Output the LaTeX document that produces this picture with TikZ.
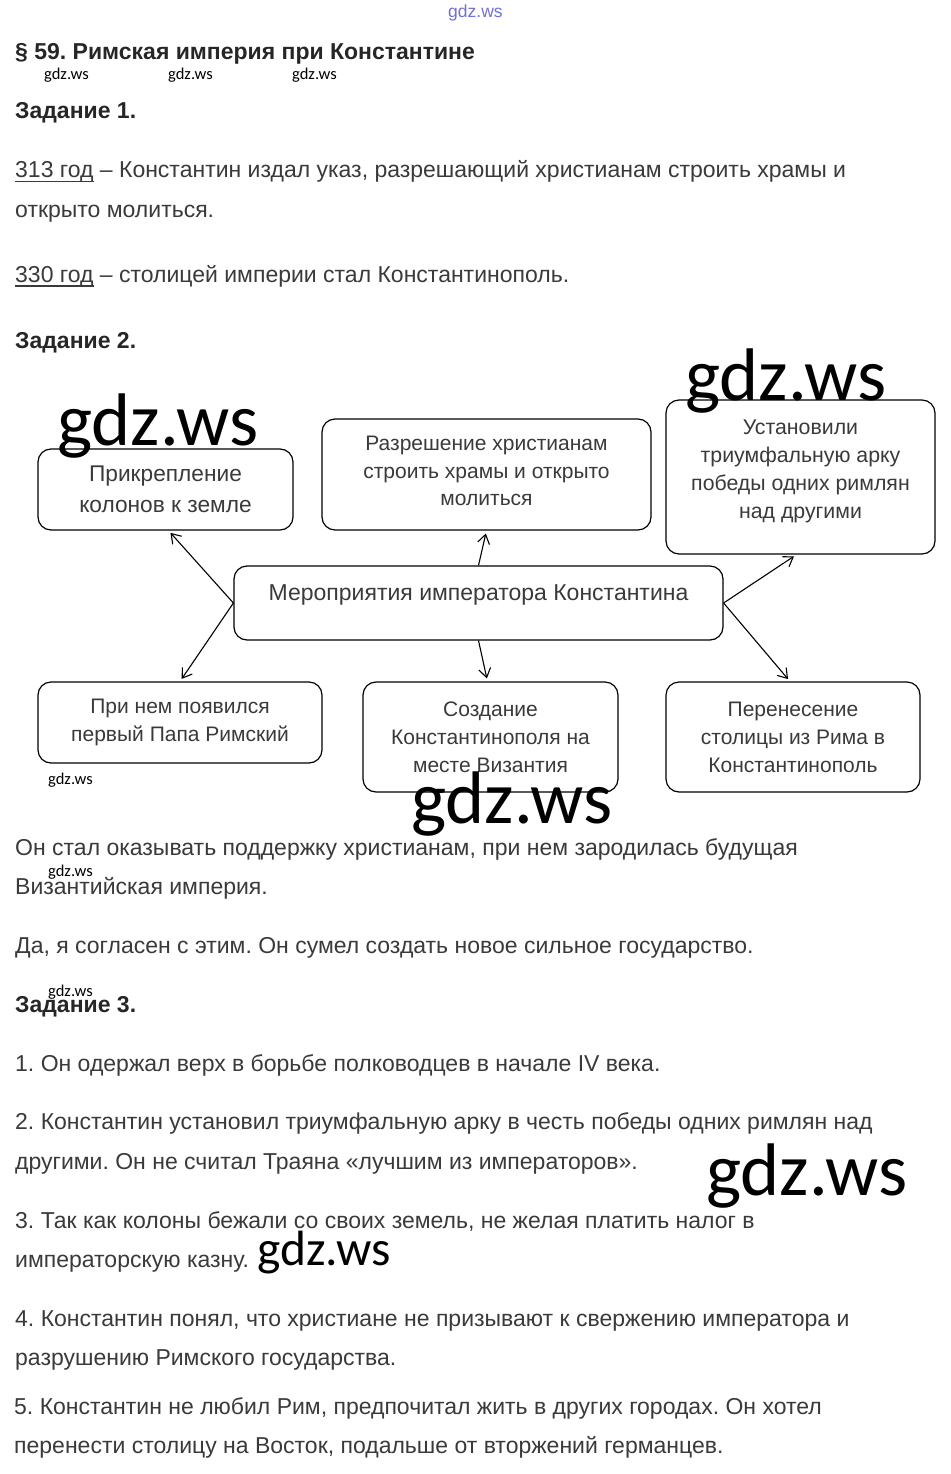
\documentclass[tikz,border=0pt]{standalone}
\usepackage{fontspec}
\setmainfont{Liberation Sans}
\newfontfamily\wmfont{Carlito}
\usetikzlibrary{arrows.meta}
\definecolor{bodygray}{HTML}{3A3A3A}
\definecolor{titlegray}{HTML}{262626}
\definecolor{wmblue}{HTML}{7070D8}
\newcommand\ulx[1]{\setbox0\hbox{#1}\rlap{\rule[-4.5pt]{\wd0}{1.3pt}}\box0\relax}
\frenchspacing
\begin{document}
\begin{tikzpicture}[x=1pt,y=-1pt,
  body/.style={anchor=base west, inner sep=0pt, text=bodygray, font=\fontsize{23}{26}\selectfont},
  head/.style={anchor=base west, inner sep=0pt, text=titlegray, font=\bfseries\fontsize{23}{25}\selectfont},
  wmsmall/.style={anchor=base west, inner sep=0pt, text=black, font=\wmfont\fontsize{16.5}{18}\selectfont},
  wmbig/.style={anchor=base west, inner sep=0pt, text=black, font=\wmfont\fontsize{74.5}{80}\selectfont},
  box/.style={draw=black, line width=1.2pt, rounded corners=13pt, inner sep=0pt, align=center, text=bodygray},
  arr/.style={-{Straight Barb[length=9pt,width=12pt,line width=1.1pt]}, line width=1.1pt, shorten >=3pt}
]
\fill[white] (0,0) rectangle (950,1474);
\useasboundingbox (0,0) rectangle (950,1474);

% header
\node[anchor=base west, inner sep=0pt, text=wmblue, font=\fontsize{17.5}{20}\selectfont] (wtop) at (448,18) {gdz.ws};
\node[head, font=\bfseries\fontsize{23}{25}\selectfont] (title) at (15,60) {§ 59. Римская империя при Константине};
\node[wmsmall] (w1) at (44,80) {gdz.ws};
\node[wmsmall] (w2) at (168,80) {gdz.ws};
\node[wmsmall] (w3) at (292,80) {gdz.ws};
\node[head] (z1) at (15,119) {Задание 1.};

\node[body] (t1) at (15,178) {\ulx{313 год} – Константин издал указ, разрешающий христианам строить храмы и};
\node[body] (t2) at (15,217) {открыто молиться.};
\node[body] (t3) at (15,282) {\ulx{330 год} – столицей империи стал Константинополь.};
\node[head] (z2) at (15,348) {Задание 2.};

% diagram
\node[box, minimum width=255pt, minimum height=81pt, font=\fontsize{22.7}{31}\selectfont] (a) at (165.5,489.5) {Прикрепление\\колонов к земле};
\node[box, minimum width=329pt, minimum height=111pt, font=\fontsize{21}{27.5}\selectfont] (b) at (486.5,474.5) {Разрешение христианам\\строить храмы и открыто\\молиться\\[-21pt]\mbox{}};
\node[box, minimum width=269pt, minimum height=154pt, font=\fontsize{21.3}{28}\selectfont, text depth=0pt] (cc) at (800.5,477) {Установили\\триумфальную арку\\победы одних римлян\\над другими\\[-12pt]\mbox{}};
\node[box, minimum width=489pt, minimum height=74pt] (c) at (478.5,603) {};
\node[anchor=base, inner sep=0pt, text=bodygray, font=\fontsize{23}{26}\selectfont] (ct) at (478.5,600) {Мероприятия императора Константина};
\node[box, minimum width=284pt, minimum height=81pt, font=\fontsize{21}{28}\selectfont] (d) at (180,722.5) {При нем появился\\первый Папа Римский};
\node[box, minimum width=255pt, minimum height=110pt, font=\fontsize{21}{28}\selectfont] (e) at (490.5,737) {Создание\\Константинополя на\\месте Византия};
\node[box, minimum width=254pt, minimum height=110pt, font=\fontsize{21}{28}\selectfont] (f) at (793,737) {Перенесение\\столицы из Рима в\\Константинополь};

\draw[arr] (c.west) -- ([xshift=3pt]a.south);
\draw[arr] (c.west) -- (d.north);
\draw[arr] (c.north) -- (b.south);
\draw[arr] (c.south) -- ([xshift=-3pt]e.north);
\draw[arr] (c.east) -- ([xshift=-4pt]cc.south);
\draw[arr] (c.east) -- ([xshift=-3pt]f.north);

\node[wmsmall] (w4) at (48,784) {gdz.ws};

% text after diagram
\node[body] (p1) at (15,855) {Он стал оказывать поддержку христианам, при нем зародилась будущая};
\node[body] (p2) at (15,894) {Византийская империя.};
\node[wmsmall] (w5) at (48,876) {gdz.ws};
\node[body] (p3) at (15,953) {Да, я согласен с этим. Он сумел создать новое сильное государство.};
\node[head] (z3) at (15,1012) {Задание 3.};
\node[wmsmall] (w6) at (48,996) {gdz.ws};

\node[body] (q1) at (15,1071) {1. Он одержал верх в борьбе полководцев в начале IV века.};
\node[body] (q2) at (15,1129) {2. Константин установил триумфальную арку в честь победы одних римлян над};
\node[body] (q2b) at (15,1169) {другими. Он не считал Траяна «лучшим из императоров».};
\node[body] (q3) at (15,1228) {3. Так как колоны бежали со своих земель, не желая платить налог в};
\node[body] (q3b) at (15,1267) {императорскую казну.};
\node[body] (q4) at (15,1326) {4. Константин понял, что христиане не призывают к свержению императора и};
\node[body] (q4b) at (15,1365) {разрушению Римского государства.};
\node[body] (q5) at (14,1414) {5. Константин не любил Рим, предпочитал жить в других городах. Он хотел};
\node[body] (q5b) at (14,1453) {перенести столицу на Восток, подальше от вторжений германцев.};

% big watermarks
\node[wmbig] (W1) at (57,445) {gdz.ws};
\node[wmbig] (W2) at (685,400) {gdz.ws};
\node[wmbig] (W3) at (411,823) {gdz.ws};
\node[wmbig] (W4) at (706,1195) {gdz.ws};
\node[wmbig, font=\wmfont\fontsize{49.5}{52}\selectfont] (W5) at (257,1265) {gdz.ws};
\end{tikzpicture}
\end{document}
